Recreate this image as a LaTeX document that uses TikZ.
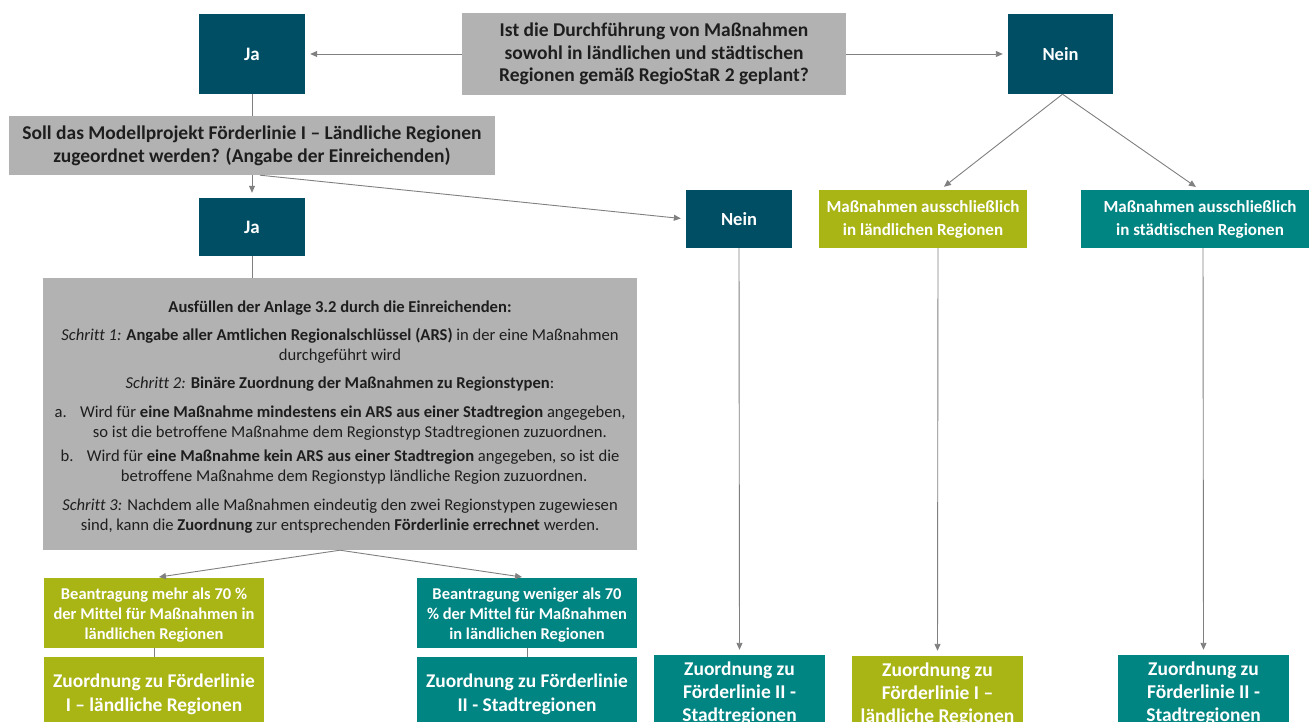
\documentclass[tikz,border=0pt]{standalone}
\usepackage{fontspec}
\setmainfont{Carlito}[Ligatures=NoCommon]
\usetikzlibrary{arrows.meta,calc}
\definecolor{cdark}{RGB}{0,78,100}
\definecolor{cgray}{RGB}{178,178,178}
\definecolor{clime}{RGB}{169,180,21}
\definecolor{cteal}{RGB}{0,133,131}
\definecolor{cline}{RGB}{128,128,128}
\definecolor{ctext}{RGB}{30,30,30}
\newcommand{\fs}[2]{\fontsize{#1}{#2}\selectfont}
\tikzset{
  box/.style={fill=#1, inner sep=0pt, align=center},
  darkbox/.style={box=cdark, text=white},
  graybox/.style={box=cgray, text=ctext},
  limebox/.style={box=clime, text=white},
  tealbox/.style={box=cteal, text=white},
  conn/.style={draw=cline, line width=0.9pt},
  arr/.style={conn, -{Triangle[length=7pt,width=6pt]}, shorten >=5pt},
}
\begin{document}
\begin{tikzpicture}[x=1pt,y=-1pt]
\useasboundingbox (0,0) rectangle (1309,722);
\clip (0,0) rectangle (1309,722);
\fill[white] (0,0) rectangle (1309,722);

\node[graybox, minimum width=384pt, minimum height=82pt, font=\bfseries\fs{19.5}{22.5}] (q) at (654,54)
  {Ist die Durchführung von Maßnahmen\\ sowohl in ländlichen und städtischen\\ Regionen gemäß RegioStaR 2 geplant?};
\node[darkbox, minimum width=106pt, minimum height=80pt, font=\bfseries\fs{19}{22}] (ja1) at (252,54) {Ja};
\node[darkbox, minimum width=105pt, minimum height=80pt, font=\bfseries\fs{18.5}{22}] (nein1) at (1060.5,54) {Nein};
\node[graybox, minimum width=486pt, minimum height=59pt, font=\bfseries\fs{19.5}{23}] (soll) at (252,145.5)
  {Soll das Modellprojekt Förderlinie I – Ländliche Regionen\\ zugeordnet werden? (Angabe der Einreichenden)};
\node[darkbox, minimum width=106pt, minimum height=58pt, font=\bfseries\fs{19}{22}] (ja2) at (252,227) {Ja};
\node[darkbox, minimum width=106pt, minimum height=58pt, font=\bfseries\fs{18.5}{22}] (nein2) at (739,219) {Nein};
\node[limebox, minimum width=208pt, minimum height=58pt, font=\bfseries\fs{17}{23}] (lime1) at (923,219)
  {Maßnahmen ausschließlich\\ in ländlichen Regionen};
\node[tealbox, minimum width=238pt, minimum height=58pt, font=\bfseries\fs{17}{23}] (teal1) at (1200,219)
  {Maßnahmen ausschließlich\\ in städtischen Regionen};

\node[graybox, minimum width=594pt, minimum height=272pt, font=\fs{16.6}{20}] (big) at (340,414)
  {\rule{0pt}{17pt}\textbf{Ausfüllen der Anlage 3.2 durch die Einreichenden:}\\[8pt]
   \textit{Schritt 1:} \textbf{Angabe aller Amtlichen Regionalschlüssel (ARS)} in der eine Maßnahmen\\
   durchgeführt wird\\[8pt]
   \textit{Schritt 2:} \textbf{Binäre Zuordnung der Maßnahmen zu Regionstypen}:\\[9pt]
   a.\hspace{0.8em}Wird für \textbf{eine Maßnahme mindestens ein ARS aus einer Stadtregion} angegeben,\\
   \hspace{1.2em}so ist die betroffene Maßnahme dem Regionstyp Stadtregionen zuzuordnen.\\[4pt]
   b.\hspace{0.8em}Wird für \textbf{eine Maßnahme kein ARS aus einer Stadtregion} angegeben, so ist die\\
   \hspace{1.7em}betroffene Maßnahme dem Regionstyp ländliche Region zuzuordnen.\\[9pt]
   \textit{Schritt 3:} Nachdem alle Maßnahmen eindeutig den zwei Regionstypen zugewiesen\\
   sind, kann die \textbf{Zuordnung} zur entsprechenden \textbf{Förderlinie errechnet} werden.};

\node[limebox, minimum width=220pt, minimum height=70pt, font=\bfseries\fs{16.5}{20}] (s1) at (154,613)
  {\rule{0pt}{16pt}Beantragung mehr als 70 \%\\ der Mittel für Maßnahmen in\\ ländlichen Regionen};
\node[tealbox, minimum width=220pt, minimum height=70pt, font=\bfseries\fs{16.5}{20}] (s2) at (527,613)
  {\rule{0pt}{16pt}Beantragung weniger als 70\\ \% der Mittel für Maßnahmen\\ in ländlichen Regionen};
\node[limebox, minimum width=220pt, minimum height=74pt, font=\bfseries\fs{19.4}{24}] (b1) at (154,694)
  {Zuordnung zu Förderlinie\\ I – ländliche Regionen};
\node[tealbox, minimum width=220pt, minimum height=74pt, font=\bfseries\fs{19.4}{24}] (b2) at (527,694)
  {Zuordnung zu Förderlinie\\ II - Stadtregionen};

\node[tealbox, minimum width=171pt, minimum height=76pt, font=\bfseries\fs{19.5}{23}] (bt1) at (739.5,693)
  {Zuordnung zu\\ Förderlinie II -\\ Stadtregionen};
\node[limebox, minimum width=171pt, minimum height=76pt, font=\bfseries\fs{19.5}{23}] (bl) at (937.5,694)
  {Zuordnung zu\\ Förderlinie I –\\ ländliche Regionen};
\node[tealbox, minimum width=171pt, minimum height=76pt, font=\bfseries\fs{19.5}{23}] (bt2) at (1203.5,693)
  {Zuordnung zu\\ Förderlinie II -\\ Stadtregionen};

% connectors
\draw[arr] (q.west) -- (ja1.east);
\draw[arr] (q.east) -- (nein1.west);
\draw[conn] (ja1.south) -- (soll.north);
\draw[arr] (soll.south) -- (ja2.north);
\draw[arr] ([xshift=8pt]soll.south) -- (nein2.west);
\draw[arr] ([xshift=2pt]nein1.south) -- ([xshift=17pt]lime1.north);
\draw[arr] ([xshift=2pt]nein1.south) -- (teal1.north);
\draw[conn] (ja2.south) -- (ja2.south |- big.north);
\draw[arr] (big.south) -- (s1.north);
\draw[arr] (big.south) -- (s2.north);
\draw[conn] (s1.south) -- (b1.north);
\draw[conn] (s2.south) -- (b2.north);
\draw[arr] (nein2.south) -- (bt1.north);
\draw[arr] ([xshift=15pt]lime1.south) -- (bl.north);
\draw[arr] ([xshift=3pt]teal1.south) -- (bt2.north);
\end{tikzpicture}
\end{document}
